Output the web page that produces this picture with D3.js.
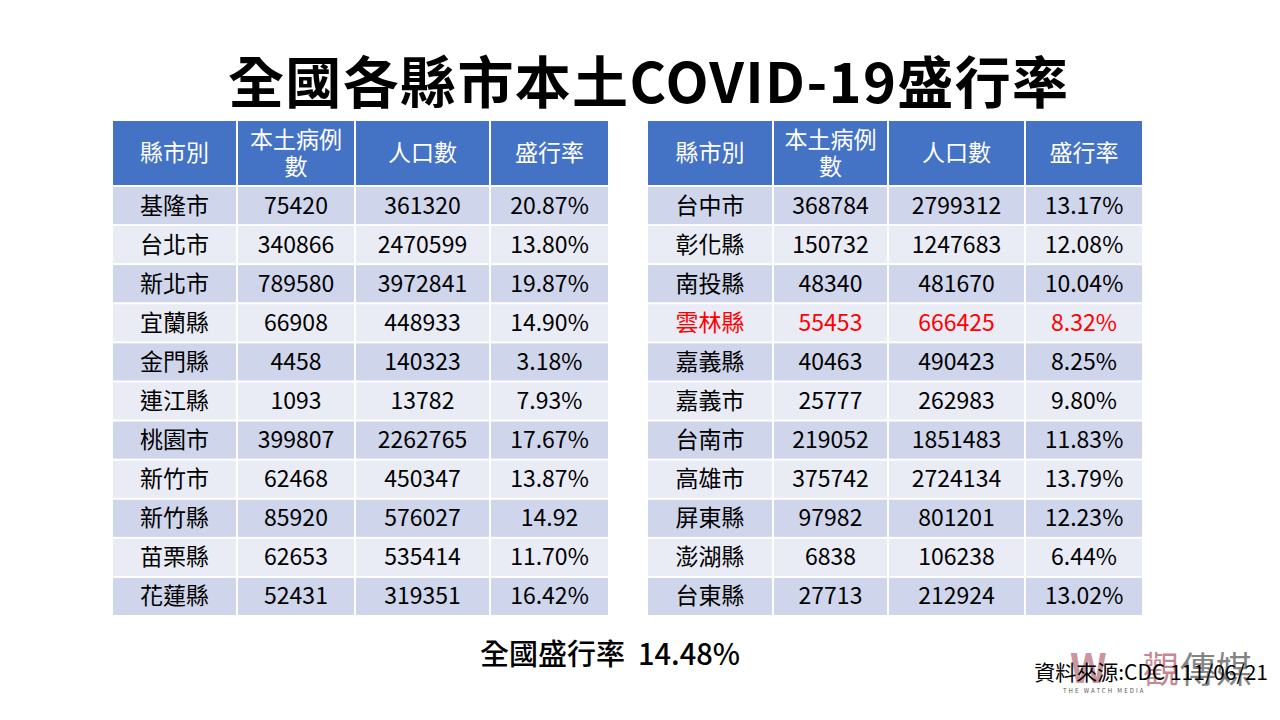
<!DOCTYPE html>
<html><head><meta charset="utf-8">
<script src="https://cdn.jsdelivr.net/npm/d3@7"></script>
<style>body{margin:0;background:#fff}svg{display:block;font-family:"Noto Sans CJK TC","Noto Sans",sans-serif}</style>
</head><body><svg id="c" width="1280" height="720"></svg>
<script>
const headers = ["縣市別","本土病例\n數","人口數","盛行率"];
const leftCounties = ["基隆市","台北市","新北市","宜蘭縣","金門縣","連江縣","桃園市","新竹市","新竹縣","苗栗縣","花蓮縣"];
const leftCases = ["75420","340866","789580","66908","4458","1093","399807","62468","85920","62653","52431"];
const leftPop = ["361320","2470599","3972841","448933","140323","13782","2262765","450347","576027","535414","319351"];
const leftRate = ["20.87%","13.80%","19.87%","14.90%","3.18%","7.93%","17.67%","13.87%","14.92","11.70%","16.42%"];
const rightCounties = ["台中市","彰化縣","南投縣","雲林縣","嘉義縣","嘉義市","台南市","高雄市","屏東縣","澎湖縣","台東縣"];
const rightCases = ["368784","150732","48340","55453","40463","25777","219052","375742","97982","6838","27713"];
const rightPop = ["2799312","1247683","481670","666425","490423","262983","1851483","2724134","801201","106238","212924"];
const rightRate = ["13.17%","12.08%","10.04%","8.32%","8.25%","9.80%","11.83%","13.79%","12.23%","6.44%","13.02%"];
const highlight = "雲林縣";

const svg = d3.select("#c");
svg.append("text").attr("x",648).attr("y",103).attr("text-anchor","middle")
  .attr("font-size",56).attr("font-weight",700).attr("textLength",840).attr("fill","#000").text("全國各縣市本土COVID-19盛行率");

function table(x0, colW, counties, cases, pop, rate){
  const xs=[x0]; colW.forEach(w=>xs.push(xs[xs.length-1]+w));
  const y = d3.scaleBand().domain(d3.range(counties.length)).range([186,616]).padding(0);
  const g = svg.append("g");
  headers.forEach((h,i)=>{
    g.append("rect").attr("x",xs[i]+1).attr("y",121).attr("width",colW[i]-2).attr("height",64).attr("fill","#4472C4");
    const lines=h.split("\n");
    lines.forEach((l,j)=>g.append("text").attr("x",xs[i]+colW[i]/2)
      .attr("y",153+(j-(lines.length-1)/2)*27+8).attr("text-anchor","middle")
      .attr("font-size",23).attr("fill","#fff").text(l));
  });
  counties.forEach((c,r)=>{
    const vals=[c,cases[r],pop[r],rate[r]];
    vals.forEach((v,i)=>{
      g.append("rect").attr("x",xs[i]+1).attr("y",y(r)+1).attr("width",colW[i]-2).attr("height",y.bandwidth()-2)
        .attr("fill", r%2===0?"#CFD5EA":"#E9EBF5");
      g.append("text").attr("x",xs[i]+colW[i]/2).attr("y",y(r)+y.bandwidth()/2+8).attr("text-anchor","middle")
        .attr("font-size",23).attr("fill", c===highlight?"#FF0000":"#000").text(v);
    });
  });
}
table(112,[125,118,135,119],leftCounties,leftCases,leftPop,leftRate);
table(647,[126,115,137,118],rightCounties,rightCases,rightPop,rightRate);

svg.append("text").attr("x",610).attr("y",665).attr("text-anchor","middle").attr("font-size",29)
  .attr("font-weight",500).attr("fill","#000").attr("xml:space","preserve").text("全國盛行率  14.48%");
svg.append("text").attr("x",1070).attr("y",683).attr("font-size",40).attr("font-weight",700).attr("fill","#b56b78").attr("opacity",0.7).text("W");
svg.append("text").attr("x",1143).attr("y",683).attr("font-size",36).attr("fill","#b56b78").attr("opacity",0.8).text("觀");
svg.append("text").attr("x",1180).attr("y",683).attr("font-size",36).attr("fill","#666").attr("opacity",0.8).text("傳媒");
svg.append("text").attr("x",1063).attr("y",693).attr("font-size",6).attr("letter-spacing",2).attr("fill","#555").text("THE WATCH MEDIA");
svg.append("text").attr("x",1268).attr("y",680).attr("text-anchor","end").attr("font-size",21).attr("fill","#000").text("資料來源:CDC 111/06/21");
</script></body></html>
